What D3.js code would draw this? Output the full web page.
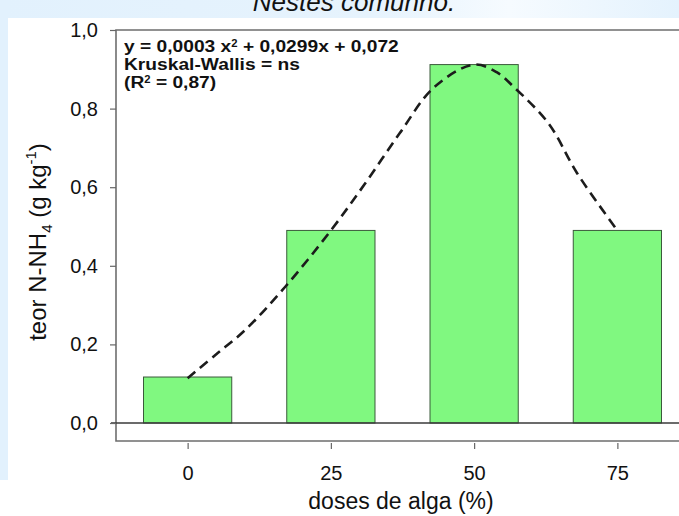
<!DOCTYPE html>
<html>
<head>
<meta charset="utf-8">
<title>teor N-NH4 x doses de alga</title>
<style>
html, body {
    margin: 0;
    padding: 0;
    background: #fff;
}
svg text {
    font-family: 'Liberation Sans', Arial, sans-serif;
    fill: #111;
}
.frame {
  fill: none;
  stroke: #6e6e6e;
  stroke-width: 1.6px;
}
.bar {
  fill: #80f880;
  stroke: #3b5a3b;
  stroke-width: 1px;
}
.fit {
  fill: none;
  stroke: #1c1c1c;
  stroke-width: 2.6px;
  stroke-dasharray: 10 6;
}
</style>
<script src="https://cdn.jsdelivr.net/npm/d3@7"></script>
</head>
<body>
<svg width="679" height="516"></svg>
<script>

// doses de alga (%) e teor N-NH4 (g kg-1)
var doses = [0, 25, 50, 75];
var teor = [0.117, 0.490, 0.912, 0.490];

// linha tracejada
var fitX = [0, 5, 10, 17, 25, 31, 37, 43, 50, 54, 57, 63, 68, 75];
var fitY = [0.114, 0.175, 0.236, 0.346, 0.490, 0.610, 0.737, 0.854, 0.912, 0.892, 0.854, 0.762, 0.635, 0.490];

var yTicks = [0, 0.2, 0.4, 0.6, 0.8, 1.0];
var annot = ["Kruskal-Wallis = ns"];

var svg = d3.select("svg"),
    width = +svg.attr("width"),
    height = +svg.attr("height");

var plotLeft = 116, plotTop = 30, plotBottom = 441;

var x = d3.scaleLinear().domain([-12.5, 87.5]).range([plotLeft, 689]);
var y = d3.scaleLinear().domain([-0.0458, 1.0]).range([plotBottom, plotTop]);
var barHalf = 7.7;

var fmt = function(d) { return d3.format(".1f")(d).replace(".", ","); };

// fundo azul claro da pagina de origem
var defs = svg.append("defs");
var g1 = defs.append("linearGradient").attr("id", "topband");
g1.append("stop").attr("offset", "0%").attr("stop-color", "#e2f1fd");
g1.append("stop").attr("offset", "55%").attr("stop-color", "#e6f3fd");
g1.append("stop").attr("offset", "75%").attr("stop-color", "#f6fbff");
g1.append("stop").attr("offset", "100%").attr("stop-color", "#e4f2fd");

svg.append("rect").attr("x", 0).attr("y", 0).attr("width", width).attr("height", 18)
    .attr("fill", "url(#topband)");
svg.append("rect").attr("x", 0).attr("y", 0).attr("width", 8).attr("height", 480)
    .attr("fill", "#e2f1fd");

svg.append("text")
    .attr("x", 354).attr("y", 11)
    .attr("text-anchor", "middle")
    .style("font-style", "italic")
    .style("font-size", "26px")
    .text("Nestes comunho.");

// moldura
svg.append("path")
    .attr("class", "frame")
    .attr("d", "M" + (width + 2) + "," + plotTop + "H" + plotLeft + "V" + plotBottom + "H" + (width + 2));

// barras
svg.selectAll(".bar")
    .data(doses)
    .enter().append("rect")
      .attr("class", "bar")
      .attr("x", function(d) { return x(d - barHalf); })
      .attr("width", function(d) { return x(d + barHalf) - x(d - barHalf); })
      .attr("y", function(d, i) { return y(teor[i]); })
      .attr("height", function(d, i) { return y(0) - y(teor[i]); });

// linha do zero
svg.append("line")
    .attr("x1", plotLeft - 5).attr("x2", width)
    .attr("y1", y(0)).attr("y2", y(0))
    .attr("stroke", "#3a3a3a").attr("stroke-width", 1.3);

// eixo y
var yAxis = svg.append("g")
    .attr("transform", "translate(" + plotLeft + ",0)")
    .call(d3.axisLeft(y).tickValues(yTicks).tickSize(6).tickPadding(12).tickFormat(fmt));
yAxis.select(".domain").remove();
yAxis.selectAll("line").attr("stroke", "#666").attr("stroke-width", 1.2);
yAxis.selectAll("text").style("font-size", "20px").attr("fill", "#111")
    .style("font-family", "'Liberation Sans', Arial, sans-serif");

// eixo x
var xAxis = svg.append("g")
    .attr("transform", "translate(0," + (plotBottom + 2) + ")")
    .call(d3.axisBottom(x).tickValues(doses).tickSize(6).tickPadding(17).tickFormat(d3.format("d")));
xAxis.select(".domain").remove();
xAxis.selectAll("line").attr("stroke", "#666").attr("stroke-width", 1.2);
xAxis.selectAll("text").style("font-size", "20px").attr("fill", "#111")
    .style("font-family", "'Liberation Sans', Arial, sans-serif");

// linha ajustada
var line = d3.line()
    .x(function(d) { return x(d[0]); })
    .y(function(d) { return y(d[1]); })
    .curve(d3.curveCatmullRom);

svg.append("path")
    .datum(d3.zip(fitX, fitY))
    .attr("class", "fit")
    .attr("d", line);

// titulos dos eixos
svg.append("text")
    .attr("x", 401).attr("y", 509)
    .attr("text-anchor", "middle")
    .style("font-size", "23px")
    .text("doses de alga (%)");

var yl = svg.append("text")
    .attr("transform", "translate(46,242) rotate(-90)")
    .attr("text-anchor", "middle")
    .style("font-size", "24px");
yl.append("tspan").text("teor N-NH");
yl.append("tspan").attr("dy", 6).style("font-size", "15px").text("4");
yl.append("tspan").attr("dy", -6).text(" (g kg");
yl.append("tspan").attr("dy", -10).style("font-size", "15px").text("-1");
yl.append("tspan").attr("dy", 10).text(")");

// equacao e estatistica
var note = svg.append("g")
    .attr("transform", "translate(124,0) scale(1.13,1) translate(-124,0)")
    .style("font-weight", "bold").style("font-size", "17px");
var t1 = note.append("text").attr("x", 124).attr("y", 52);
t1.append("tspan").text("y = 0,0003 x");
t1.append("tspan").attr("dy", -5).style("font-size", "10px").text("2");
t1.append("tspan").attr("dy", 5).text(" + 0,0299x + 0,072");
note.append("text").attr("x", 124).attr("y", 70).text(annot[0]);
var t3 = note.append("text").attr("x", 124).attr("y", 88);
t3.append("tspan").text("(R");
t3.append("tspan").attr("dy", -5).style("font-size", "10px").text("2");
t3.append("tspan").attr("dy", 5).text(" = 0,87)");

</script>
</body>
</html>
